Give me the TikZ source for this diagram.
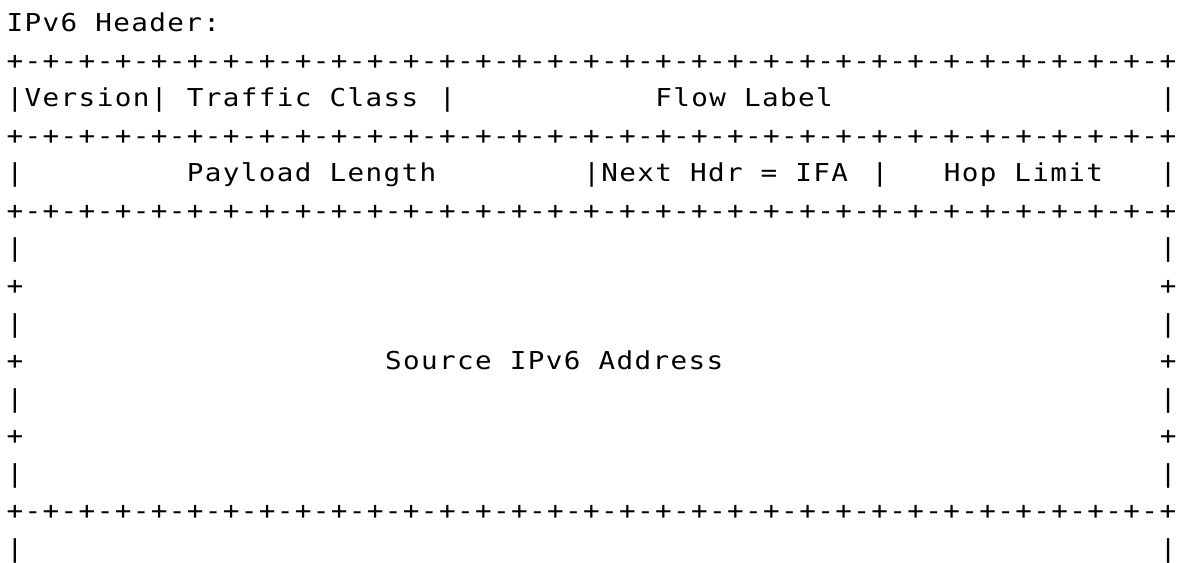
\documentclass[tikz,border=0pt]{standalone}
\usepackage{fontspec}
\newfontfamily\asciimono[FakeStretch=1.12,LetterSpace=5.6]{DejaVu Sans Mono}
\tikzset{
  x=0.75pt, y=-0.75pt,
  txt/.style={anchor=base west, inner sep=0pt, outer sep=0pt,
              font=\asciimono\fontsize{18.5pt}{18.5pt}\selectfont, text=black},
}
\newcommand\bordertext{+-+-+-+-+-+-+-+-+-+-+-+-+-+-+-+-+-+-+-+-+-+-+-+-+-+-+-+-+-+-+-+-+}
\begin{document}
\begin{tikzpicture}
\useasboundingbox (0,0) rectangle (1189,563);
\clip (0,0) rectangle (1189,563);
\def\xo{6.7}
\def\cw{18.02}
% line 1
\node[txt] (title) at (\xo,32) {IPv6 Header:};
% borders (lines 2,4,6,14)
\node[txt] (b1) at (\xo,69.5) {\bordertext};
\node[txt] (b2) at (\xo,144.5) {\bordertext};
\node[txt] (b3) at (\xo,219.5) {\bordertext};
\node[txt] (b4) at (\xo,519.5) {\bordertext};
% line 3
\node[txt] (v0) at ({\xo+0*\cw},107) {|Version|};
\node[txt] (tc) at ({\xo+10*\cw},107) {Traffic Class};
\node[txt] (v24) at ({\xo+24*\cw},107) {|};
\node[txt] (fl) at ({\xo+36*\cw},107) {Flow Label};
\node[txt] (v64a) at ({\xo+64*\cw},107) {|};
% line 5
\node[txt] (p0) at ({\xo+0*\cw},182) {|};
\node[txt] (pl) at ({\xo+10*\cw},182) {Payload Length};
\node[txt] (nh) at ({\xo+32*\cw},182) {|Next Hdr = IFA};
\node[txt] (p48) at ({\xo+48*\cw},182) {|};
\node[txt] (hl) at ({\xo+52*\cw},182) {Hop Limit};
\node[txt] (p64) at ({\xo+64*\cw},182) {|};
% lines 7-13 and 15: side marks
\foreach \k/\ch in {7/|,8/+,9/|,10/+,11/|,12/+,13/|,15/|}{
  \node[txt] (l\k a) at ({\xo+0*\cw},{32+(\k-1)*37.5}) {\ch};
  \node[txt] (l\k b) at ({\xo+64*\cw},{32+(\k-1)*37.5}) {\ch};
}
\node[txt] (src) at ({\xo+21*\cw},369.5) {Source IPv6 Address};
\end{tikzpicture}
\end{document}
